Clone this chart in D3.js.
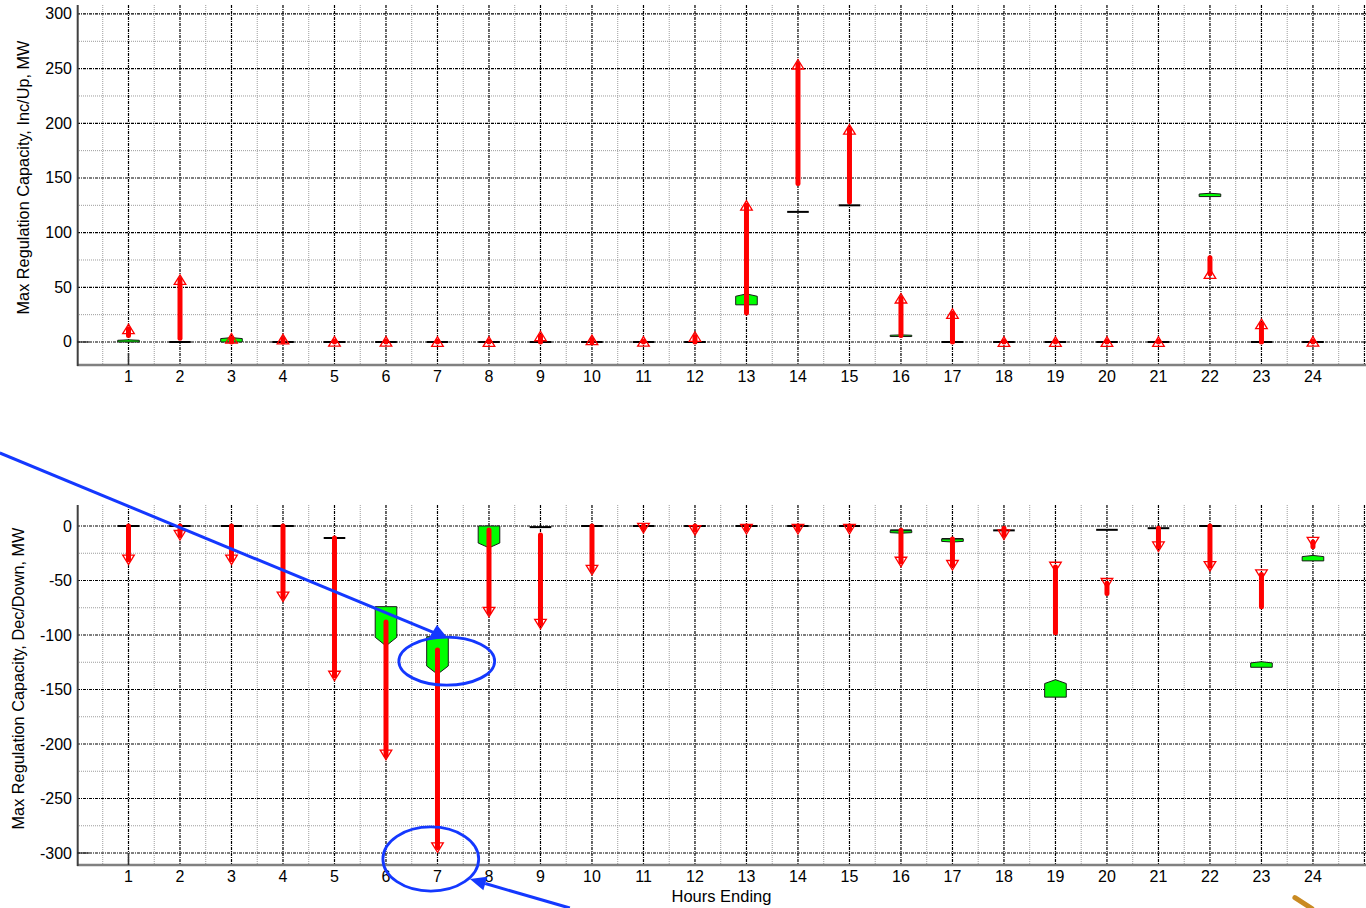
<!DOCTYPE html>
<html>
<head>
<meta charset="utf-8">
<script src="https://cdn.jsdelivr.net/npm/d3@7"></script>
<style>
  html, body { margin: 0; padding: 0; background: #fff; }
  svg { display: block; font-family: "Liberation Sans", Arial, Helvetica, sans-serif; }
</style>
</head>
<body>
<svg id="chart" width="1366" height="908"></svg>
<script>
// Hours ending 1..24
const hours = d3.range(1, 25);
const hourTicks = d3.range(1, 25);

// ---- Inc/Up panel (MW) ----
const upTicks = [0, 50, 100, 150, 200, 250, 300];
// black base dash per hour (null = none)
const upBase = [null, 0, null, 0, 0, 0, 0, 0, 0, 0, 0, 0, null, 119, 125, null, 0, 0, 0, 0, 0, null, 0, 0];
// green block: start value -> pointed end value
const upBlockFrom = [0, null, 0, null, null, null, null, null, null, null, null, null, 34, null, null, 5, null, null, null, null, null, 133, null, null];
const upBlockTo   = [2, null, 4, null, null, null, null, null, null, null, null, null, 44, null, null, 6.5, null, null, null, null, null, 136, null, null];
// red arrow: shaft start -> triangle marker
const upArrowFrom = [6, 3.5, 0, 0, 0, 0, 0, 0, 0, 0, 0, 0, 26.5, 145, 128, 6, 0, 0, 0, 0, 0, 77, 0, 0];
const upArrowTo   = [12, 57, 3.4, 2.7, 0.6, 0.6, 0.4, 0.4, 5.5, 2, 0.6, 5, 125, 254, 194.5, 40, 26, 0.4, 0.4, 0.4, 0.4, 62.5, 16.5, 0.6];

// ---- Dec/Down panel (MW) ----
const dnTicks = [0, -50, -100, -150, -200, -250, -300];
const dnBase = [0, 0, 0, 0, -11, null, null, null, -1, 0, 0, 0, 0, 0, 0, -4, -12, -4, null, -3.5, -2, 0, null, null];
const dnBlockFrom = [null, null, null, null, null, -74, -101.5, 0, null, null, null, null, null, null, null, -4.3, -12, null, -157, null, null, null, -129.6, -32];
const dnBlockTo   = [null, null, null, null, null, -110, -136, -20, null, null, null, null, null, null, null, -6.6, -14.7, null, -141, null, null, null, -124.5, -27];
const dnArrowFrom = [0, 0, 0, 0, -11, -88, -113.8, -3.7, -8.3, 0, 0, 0, 0, 0, 0, -4, -12, -2, -98, -62, -2, 0, -74, -19];
const dnArrowTo   = [-31, -8.5, -31, -65, -137.6, -210, -295, -79, -90, -40.4, -2, -4, -3, -3, -3, -33, -36, -8, -37.6, -52.5, -19, -37, -44.6, -14.7];

const svg = d3.select("#chart");
const W = 1366;

const x = d3.scaleLinear().domain([0, 25.03]).range([77, 1366]);

const panels = [
  {
    top: 5, bottom: 365, domain: [-21.04, 308.2], ticks: upTicks, dir: -1,
    base: upBase, blockFrom: upBlockFrom, blockTo: upBlockTo,
    arrowFrom: upArrowFrom, arrowTo: upArrowTo, refTick: 0,
    title: "Max Regulation Capacity, Inc/Up, MW", titleX: 28.5, titleY: 177.5
  },
  {
    top: 505, bottom: 865, domain: [-311.0, 19.27], ticks: dnTicks, dir: 1,
    base: dnBase, blockFrom: dnBlockFrom, blockTo: dnBlockTo,
    arrowFrom: dnArrowFrom, arrowTo: dnArrowTo, refTick: -300,
    title: "Max Regulation Capacity, Dec/Down, MW", titleX: 24, titleY: 678.5
  }
];

const halfW = 10.8;     // px half-width of dashes/blocks
const triHW = 5.8, triH = 9.5;

panels.forEach(p => {
  const y = d3.scaleLinear().domain(p.domain).range([p.bottom, p.top]);
  p.y = y;
  const g = svg.append("g");

  // minor grid
  const minorV = d3.range(0.5, 25, 1);
  const minorH = d3.range(-325, 326, 50).filter(v => v > p.domain[0] && v < p.domain[1]);
  g.selectAll(".mv").data(minorV).join("line")
    .attr("x1", d => x(d)).attr("x2", d => x(d))
    .attr("y1", p.top).attr("y2", p.bottom)
    .attr("stroke", "#9c9c9c").attr("stroke-width", 1).attr("stroke-dasharray", "1,1");
  g.selectAll(".mh").data(minorH).join("line")
    .attr("x1", x(0)).attr("x2", W)
    .attr("y1", d => y(d)).attr("y2", d => y(d))
    .attr("stroke", "#9c9c9c").attr("stroke-width", 1).attr("stroke-dasharray", "1,1");

  // major grid
  const majorV = d3.range(1, 26);
  g.selectAll(".Mv").data(majorV).join("line")
    .attr("x1", d => x(d)).attr("x2", d => x(d))
    .attr("y1", p.top).attr("y2", p.bottom)
    .attr("stroke", "#000").attr("stroke-width", 1.2).attr("stroke-dasharray", "3,1,1,1");
  g.selectAll(".Mh").data(p.ticks).join("line")
    .attr("x1", x(0)).attr("x2", W)
    .attr("y1", d => y(d)).attr("y2", d => y(d))
    .attr("stroke", "#000").attr("stroke-width", 1.2).attr("stroke-dasharray", "3,1,1,1");

  // axis lines
  g.append("line").attr("x1", x(0)).attr("x2", W).attr("y1", p.bottom).attr("y2", p.bottom)
    .attr("stroke", "#808080").attr("stroke-width", 2.5);
  g.append("line").attr("x1", x(0) + 0.7).attr("x2", x(0) + 0.7).attr("y1", p.top).attr("y2", p.bottom + 1)
    .attr("stroke", "#404040").attr("stroke-width", 2);

  // single inner tick marks
  g.append("line").attr("x1", x(0)).attr("x2", x(0) + 12)
    .attr("y1", y(p.refTick)).attr("y2", y(p.refTick))
    .attr("stroke", "#222").attr("stroke-width", 1.2);
  g.append("line").attr("x1", x(1)).attr("x2", x(1))
    .attr("y1", p.bottom - 12).attr("y2", p.bottom)
    .attr("stroke", "#333").attr("stroke-width", 1.5);

  // tick labels
  g.selectAll(".yl").data(p.ticks).join("text")
    .attr("x", x(0) - 5).attr("y", d => y(d) + 5.5)
    .attr("text-anchor", "end").attr("font-size", 16).attr("fill", "#000")
    .text(d => d);
  g.selectAll(".xl").data(hourTicks).join("text")
    .attr("x", d => x(d)).attr("y", p.bottom + 17)
    .attr("text-anchor", "middle").attr("font-size", 16).attr("fill", "#000")
    .text(d => d);

  // axis title
  g.append("text")
    .attr("transform", `translate(${p.titleX},${p.titleY}) rotate(-90)`)
    .attr("text-anchor", "middle").attr("font-size", 16.3).attr("fill", "#000")
    .text(p.title);

  // base dashes
  const baseData = hours.map((h, i) => ({h, v: p.base[i]})).filter(d => d.v !== null);
  g.selectAll(".base").data(baseData).join("line")
    .attr("x1", d => x(d.h) - halfW).attr("x2", d => x(d.h) + halfW)
    .attr("y1", d => y(d.v)).attr("y2", d => y(d.v))
    .attr("stroke", "#000").attr("stroke-width", 2);

  // green blocks with pointed end
  const blockData = hours.map((h, i) => ({h, a: p.blockFrom[i], b: p.blockTo[i]})).filter(d => d.a !== null);
  g.selectAll(".blk").data(blockData).join("path")
    .attr("d", d => {
      const xc = x(d.h), ya = y(d.a), yb = y(d.b);
      const pt = 0.22 * (yb - ya);
      return `M${xc - halfW},${ya}L${xc + halfW},${ya}L${xc + halfW},${yb - pt}L${xc},${yb}L${xc - halfW},${yb - pt}Z`;
    })
    .attr("fill", "#00ff00").attr("stroke", "#1a1a1a").attr("stroke-width", 1);

  // red shafts
  const arrowData = hours.map((h, i) => ({h, a: p.arrowFrom[i], b: p.arrowTo[i]}));
  g.selectAll(".shaft").data(arrowData).join("line")
    .attr("x1", d => x(d.h)).attr("x2", d => x(d.h))
    .attr("y1", d => y(d.a)).attr("y2", d => y(d.b))
    .attr("stroke", "#ff0000").attr("stroke-width", 5).attr("stroke-linecap", "round");

  // hollow triangle markers
  g.selectAll(".tri").data(arrowData).join("path")
    .attr("d", d => {
      const xc = x(d.h), yc = y(d.b);
      const tip = yc + p.dir * triH / 2, base = yc - p.dir * triH / 2;
      return `M${xc},${tip}L${xc + triHW},${base}L${xc - triHW},${base}Z`;
    })
    .attr("fill", "none").attr("stroke", "#ff0000").attr("stroke-width", 1.3);
});

// x axis title
svg.append("text").attr("x", 721.5).attr("y", 902)
  .attr("text-anchor", "middle").attr("font-size", 16.5).attr("fill", "#000")
  .text("Hours Ending");

// ---- callout overlay, placed in Dec/Down panel units ----
const yd = panels[1].y;
const blue = "#1438ff";
const ov = svg.append("g");

const calloutLine = [[-1.5, 67], [6.99, -99]];
const calloutHead = [[6.99, -90.8], [6.82, -103.7], [7.18, -101.8]];
const rings = [
  {h: 7.18, v: -124, rh: 0.93, rv: 22},
  {h: 6.87, v: -305.5, rh: 0.93, rv: 29.4}
];
const pointer = [[9.57, -350.5], [7.63, -323.9]];

ov.append("line")
  .attr("x1", x(calloutLine[0][0])).attr("y1", yd(calloutLine[0][1]))
  .attr("x2", x(calloutLine[1][0])).attr("y2", yd(calloutLine[1][1]))
  .attr("stroke", blue).attr("stroke-width", 3);
ov.append("path")
  .attr("d", "M" + calloutHead.map(d => `${x(d[0])},${yd(d[1])}`).join("L") + "Z")
  .attr("fill", blue);

ov.selectAll(".ring").data(rings).join("ellipse")
  .attr("cx", d => x(d.h)).attr("cy", d => yd(d.v))
  .attr("rx", d => x(d.h + d.rh) - x(d.h))
  .attr("ry", d => yd(d.v - d.rv) - yd(d.v))
  .attr("fill", "none").attr("stroke", blue).attr("stroke-width", 2.8);

{
  const x0 = x(pointer[0][0]), y0 = yd(pointer[0][1]);
  const x1 = x(pointer[1][0]), y1 = yd(pointer[1][1]);
  const len = Math.hypot(x1 - x0, y1 - y0);
  const ux = (x1 - x0) / len, uy = (y1 - y0) / len;
  const hl = 16, hw = 7;
  const bx = x1 - ux * hl, by = y1 - uy * hl;
  ov.append("line").attr("x1", x0).attr("y1", y0).attr("x2", bx).attr("y2", by)
    .attr("stroke", blue).attr("stroke-width", 3);
  ov.append("path")
    .attr("d", `M${x1},${y1}L${bx - uy * hw},${by + ux * hw}L${bx + uy * hw},${by - ux * hw}Z`)
    .attr("fill", blue);
}

// stray pen stroke at lower right
const penStroke = [[23.65, -341], [23.98, -351]];
ov.append("line")
  .attr("x1", x(penStroke[0][0])).attr("y1", yd(penStroke[0][1]))
  .attr("x2", x(penStroke[1][0])).attr("y2", yd(penStroke[1][1]))
  .attr("stroke", "#c98a22").attr("stroke-width", 5).attr("stroke-linecap", "round");
</script>
</body>
</html>
